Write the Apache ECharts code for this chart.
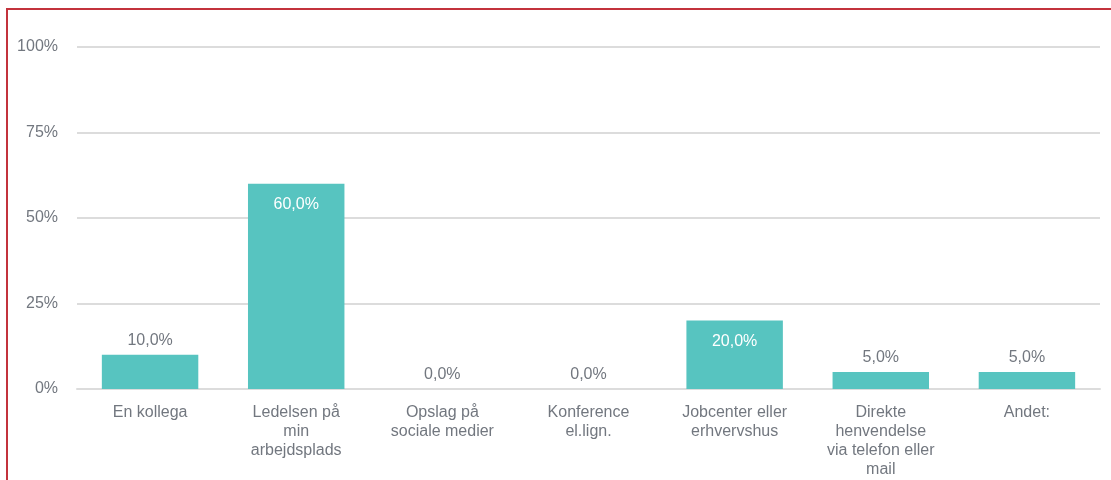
<!DOCTYPE html>
<html>
<head>
<meta charset="utf-8">
<script src="https://cdn.jsdelivr.net/npm/echarts@6/dist/echarts.min.js"></script>
<style>
  html, body { margin: 0; padding: 0; background: #fff; }
  #wrap { position: relative; width: 1111px; height: 480px; overflow: hidden; }
  #chart { position: absolute; left: 0; top: 0; width: 1111px; height: 480px; }
  #frame { position: absolute; left: 6px; top: 8px; width: 1200px; height: 600px;
           border-top: 2px solid #c3323c; border-left: 2px solid #c3323c; pointer-events: none; }
</style>
</head>
<body>
<div id="wrap">
  <div id="chart"></div>
  <div id="frame"></div>
</div>
<script>
// Hvor har du hørt om tilbuddet? – andel af besvarelser
const categories = [
  'En kollega',
  'Ledelsen på\nmin\narbejdsplads',
  'Opslag på\nsociale medier',
  'Konference\nel.lign.',
  'Jobcenter eller\nerhvervshus',
  'Direkte\nhenvendelse\nvia telefon eller\nmail',
  'Andet:'
];
const shares = [10, 60, 0, 0, 20, 5, 5];
const yTicks = [0, 25, 50, 75, 100];

const barColor = '#57c4c0';
const textColor = '#72777f';
const fontFamily = '"Liberation Sans", Arial, sans-serif';

const fmt = v => v.toFixed(1).replace('.', ',') + '%';

const chart = echarts.init(document.getElementById('chart'), null, { renderer: 'canvas' });
chart.setOption({
  animation: false,
  grid: { left: 77, right: 11, top: 47, bottom: 91 },
  xAxis: {
    type: 'category',
    data: categories,
    axisLine: { show: true, lineStyle: { color: '#dcdcdc', width: 2 } },
    axisTick: { show: false },
    axisLabel: {
      interval: 0, margin: 14, color: textColor, fontSize: 16,
      fontFamily: fontFamily, lineHeight: 19, align: 'center'
    }
  },
  yAxis: {
    type: 'value',
    min: yTicks[0], max: yTicks[yTicks.length - 1], interval: 25,
    axisLine: { show: false },
    axisTick: { show: false },
    splitLine: { lineStyle: { color: '#dcdcdc', width: 2 } },
    axisLabel: {
      margin: 19, color: textColor, fontSize: 16, fontFamily: fontFamily,
      formatter: v => v + '%'
    }
  },
  series: [{
    type: 'bar',
    barCategoryGap: '34%',
    itemStyle: { color: barColor },
    data: shares.map(v => {
      const inside = v >= 15;
      return {
        value: v,
        label: {
          show: true,
          position: inside ? 'insideTop' : 'top',
          distance: inside ? 13 : 6,
          color: inside ? '#ffffff' : textColor,
          fontSize: 16,
          fontFamily: fontFamily,
          formatter: p => fmt(p.value)
        }
      };
    })
  }]
});
</script>
</body>
</html>
